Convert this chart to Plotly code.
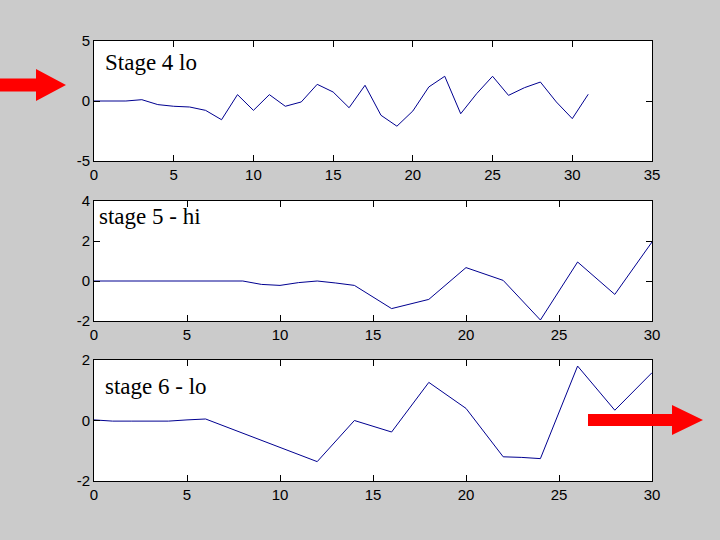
import plotly.graph_objects as go

# stage 4 (lo)
x4 = list(range(0, 32))
y4 = [0, 0, 0, 0.11, -0.3, -0.44, -0.5, -0.78, -1.56, 0.53, -0.78, 0.53, -0.44, -0.08,
      1.39, 0.75, -0.56, 1.31, -1.19, -2.1, -0.83, 1.17, 2.06, -1.06, 0.61, 2.06,
      0.47, 1.11, 1.58, -0.08, -1.47, 0.56]

# stage 5 (hi)
x5 = [0, 2, 4, 6, 8, 9, 10, 11, 12, 13, 14, 16, 18, 20, 22, 24, 26, 28, 30]
y5 = [0, 0, 0, 0, 0, -0.17, -0.22, -0.08, 0, -0.1, -0.22, -1.38, -0.92, 0.67, 0.03,
      -1.95, 0.95, -0.67, 1.95]

# stage 6 (lo)
x6 = [0, 1, 2, 3, 4, 5, 6, 12, 14, 16, 18, 20, 22, 23, 24, 26, 28, 30]
y6 = [0.02, -0.02, -0.02, -0.02, -0.02, 0.02, 0.05, -1.36, 0, -0.38, 1.26, 0.4, -1.2,
      -1.22, -1.26, 1.8, 0.34, 1.58]

labels = ['Stage 4 lo', 'stage 5 - hi', 'stage 6 - lo']

# y tick values per panel (plain hyphen minus, as in the original)
yticks = [[-5, 0, 5], [-2, 0, 2, 4], [-2, 0, 2]]

LINE = '#000090'
BG = '#cbcbcb'

# plot area in pixels (left, right, top, bottom)
L, R, T, B = 94, 652, 41, 481
W, H = 720, 540


def px(x):
    return (x - L) / (R - L)


def py(y):
    return (B - y) / (B - T)


fig = go.Figure()
fig.add_trace(go.Scatter(x=x4, y=y4, mode='lines', line=dict(color=LINE, width=1),
                         xaxis='x', yaxis='y'))
fig.add_trace(go.Scatter(x=x5, y=y5, mode='lines', line=dict(color=LINE, width=1),
                         xaxis='x2', yaxis='y2'))
fig.add_trace(go.Scatter(x=x6, y=y6, mode='lines', line=dict(color=LINE, width=1),
                         xaxis='x3', yaxis='y3'))

axis_style = dict(showline=True, linecolor='black', linewidth=1, mirror='ticks',
                  ticks='inside', ticklen=6, tickcolor='black', showgrid=False,
                  zeroline=False,
                  tickfont=dict(family='Liberation Sans, Arial', size=15, color='black'))

panels = [  # (top px, bottom px, xrange, yrange)
    (41, 161, [0, 35], [-5, 5]),
    (201, 321, [0, 30], [-2, 4]),
    (360, 481, [0, 30], [-2, 2]),
]
for i, (top, bot, xr, yr) in enumerate(panels):
    sfx = '' if i == 0 else str(i + 1)
    dom = [py(bot), py(top)]
    fig.layout['xaxis' + sfx] = dict(axis_style, range=xr, dtick=5, domain=[0, 1],
                                     anchor='y' + sfx)
    fig.layout['yaxis' + sfx] = dict(axis_style, range=yr, domain=dom,
                                     tickvals=yticks[i],
                                     ticktext=[str(v) for v in yticks[i]],
                                     anchor='x' + sfx)

label_pos = [(103, 62), (97, 216), (103, 386)]
for text, (lx, ly) in zip(labels, label_pos):
    fig.add_annotation(text=text, xref='paper', yref='paper', x=px(lx), y=py(ly),
                       xanchor='left', yanchor='middle', showarrow=False,
                       font=dict(family='Liberation Serif, Times New Roman', size=23,
                                 color='black'))


def arrow(x0, x1, x2, yc, sh, hh):
    # shaft from x0 to x1, head from x1 to tip x2 (pixels)
    pts = [(x0, yc - sh), (x1, yc - sh), (x1, yc - hh), (x2, yc), (x1, yc + hh),
           (x1, yc + sh), (x0, yc + sh)]
    d = 'M ' + ' L '.join(f'{px(a):.5f},{py(b):.5f}' for a, b in pts) + ' Z'
    fig.add_shape(type='path', path=d, xref='paper', yref='paper',
                  fillcolor='#ff0000', line=dict(width=0))


arrow(0, 36, 66, 85, 6.5, 16)
arrow(588, 672, 703, 420, 6, 15)

fig.update_layout(width=W, height=H, paper_bgcolor=BG, plot_bgcolor='white',
                  showlegend=False,
                  margin=dict(l=L, r=W - R, t=T, b=H - B))

fig.write_html('out.html', config={'displayModeBar': False},
               post_script="document.body.style.margin='0';"
                           "document.body.style.overflow='hidden';")
